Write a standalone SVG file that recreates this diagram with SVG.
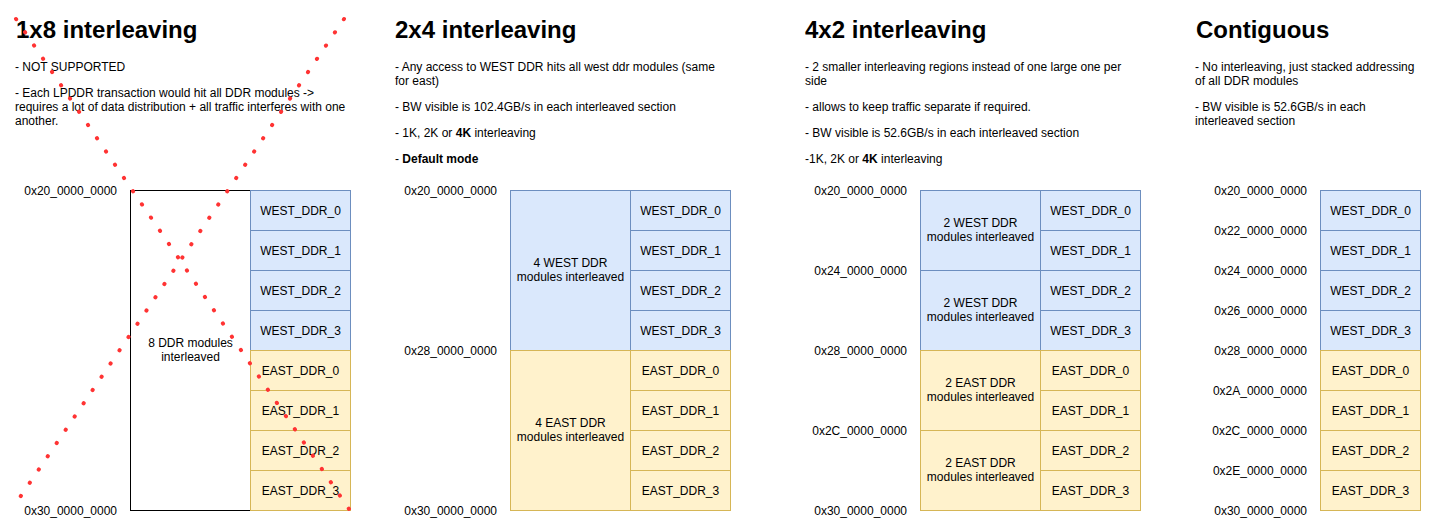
<svg xmlns="http://www.w3.org/2000/svg" width="1430" height="530" viewBox="0 0 1430 530">
<style>
text{font-family:"Liberation Sans",Arial,Helvetica,sans-serif;font-size:12px;fill:#000}
.title{font-size:24px;font-weight:bold}
.addr{text-anchor:end}
.c{text-anchor:middle}
.b{font-weight:bold}
.west{fill:#dae8fc;stroke:#6c8ebf;stroke-width:1}
.east{fill:#fff2cc;stroke:#d6b656;stroke-width:1}
.plain{fill:#ffffff;stroke:#000000;stroke-width:1}
.cross{fill:none;stroke:#ff3333;stroke-width:4;stroke-linecap:round;stroke-dasharray:0.3 15.7}
</style>
<rect width="1430" height="530" fill="#ffffff"/>

<!-- Panel 1 -->
<g id="text-1x8">
<text class="title" x="16" y="38">1x8 interleaving</text>
<text x="15" y="71">- NOT SUPPORTED</text>
<text x="15" y="97">- Each LPDDR transaction would hit all DDR modules -&gt;</text>
<text x="15" y="111">requires a lot of data distribution + all traffic interferes with one</text>
<text x="15" y="125">another.</text>
</g>
<g id="addr-1x8">
<text class="addr" x="117" y="195">0x20_0000_0000</text>
<text class="addr" x="117" y="515">0x30_0000_0000</text>
</g>
<g id="p1-interleaved"><rect class="plain" x="130.5" y="190.5" width="120" height="320"/>
<text class="c" x="190.5" y="347">8 DDR modules</text><text class="c" x="190.5" y="361">interleaved</text></g>
<g id="p1-west0"><rect class="west" x="250.5" y="190.5" width="100" height="40"/><text class="c" x="300.5" y="215">WEST_DDR_0</text></g>
<g id="p1-west1"><rect class="west" x="250.5" y="230.5" width="100" height="40"/><text class="c" x="300.5" y="255">WEST_DDR_1</text></g>
<g id="p1-west2"><rect class="west" x="250.5" y="270.5" width="100" height="40"/><text class="c" x="300.5" y="295">WEST_DDR_2</text></g>
<g id="p1-west3"><rect class="west" x="250.5" y="310.5" width="100" height="40"/><text class="c" x="300.5" y="335">WEST_DDR_3</text></g>
<g id="p1-east0"><rect class="east" x="250.5" y="350.5" width="100" height="40"/><text class="c" x="300.5" y="375">EAST_DDR_0</text></g>
<g id="p1-east1"><rect class="east" x="250.5" y="390.5" width="100" height="40"/><text class="c" x="300.5" y="415">EAST_DDR_1</text></g>
<g id="p1-east2"><rect class="east" x="250.5" y="430.5" width="100" height="40"/><text class="c" x="300.5" y="455">EAST_DDR_2</text></g>
<g id="p1-east3"><rect class="east" x="250.5" y="470.5" width="100" height="40"/><text class="c" x="300.5" y="495">EAST_DDR_3</text></g>

<!-- Panel 2 -->
<g id="text-2x4">
<text class="title" x="395" y="38">2x4 interleaving</text>
<text x="395" y="71">- Any access to WEST DDR hits all west ddr modules (same</text>
<text x="395" y="85">for east)</text>
<text x="395" y="111">- BW visible is 102.4GB/s in each interleaved section</text>
<text x="395" y="137">- 1K, 2K or <tspan class="b">4K</tspan> interleaving</text>
<text x="395" y="163">- <tspan class="b">Default mode</tspan></text>
</g>
<g id="addr-2x4">
<text class="addr" x="497" y="195">0x20_0000_0000</text>
<text class="addr" x="497" y="355">0x28_0000_0000</text>
<text class="addr" x="497" y="515">0x30_0000_0000</text>
</g>
<g id="p2-west-int"><rect class="west" x="510.5" y="190.5" width="120" height="160"/>
<text class="c" x="570.5" y="267">4 WEST DDR</text><text class="c" x="570.5" y="281">modules interleaved</text></g>
<g id="p2-east-int"><rect class="east" x="510.5" y="350.5" width="120" height="160"/>
<text class="c" x="570.5" y="427">4 EAST DDR</text><text class="c" x="570.5" y="441">modules interleaved</text></g>
<g id="p2-west0"><rect class="west" x="630.5" y="190.5" width="100" height="40"/><text class="c" x="680.5" y="215">WEST_DDR_0</text></g>
<g id="p2-west1"><rect class="west" x="630.5" y="230.5" width="100" height="40"/><text class="c" x="680.5" y="255">WEST_DDR_1</text></g>
<g id="p2-west2"><rect class="west" x="630.5" y="270.5" width="100" height="40"/><text class="c" x="680.5" y="295">WEST_DDR_2</text></g>
<g id="p2-west3"><rect class="west" x="630.5" y="310.5" width="100" height="40"/><text class="c" x="680.5" y="335">WEST_DDR_3</text></g>
<g id="p2-east0"><rect class="east" x="630.5" y="350.5" width="100" height="40"/><text class="c" x="680.5" y="375">EAST_DDR_0</text></g>
<g id="p2-east1"><rect class="east" x="630.5" y="390.5" width="100" height="40"/><text class="c" x="680.5" y="415">EAST_DDR_1</text></g>
<g id="p2-east2"><rect class="east" x="630.5" y="430.5" width="100" height="40"/><text class="c" x="680.5" y="455">EAST_DDR_2</text></g>
<g id="p2-east3"><rect class="east" x="630.5" y="470.5" width="100" height="40"/><text class="c" x="680.5" y="495">EAST_DDR_3</text></g>

<!-- Panel 3 -->
<g id="text-4x2">
<text class="title" x="805" y="38">4x2 interleaving</text>
<text x="805" y="71">- 2 smaller interleaving regions instead of one large one per</text>
<text x="805" y="85">side</text>
<text x="805" y="111">- allows to keep traffic separate if required.</text>
<text x="805" y="137">- BW visible is 52.6GB/s in each interleaved section</text>
<text x="805" y="163">-1K, 2K or <tspan class="b">4K</tspan> interleaving</text>
</g>
<g id="addr-4x2">
<text class="addr" x="907" y="195">0x20_0000_0000</text>
<text class="addr" x="907" y="275">0x24_0000_0000</text>
<text class="addr" x="907" y="355">0x28_0000_0000</text>
<text class="addr" x="907" y="435">0x2C_0000_0000</text>
<text class="addr" x="907" y="515">0x30_0000_0000</text>
</g>
<g id="p3-west-int-a"><rect class="west" x="920.5" y="190.5" width="120" height="80"/>
<text class="c" x="980.5" y="227">2 WEST DDR</text><text class="c" x="980.5" y="241">modules interleaved</text></g>
<g id="p3-west-int-b"><rect class="west" x="920.5" y="270.5" width="120" height="80"/>
<text class="c" x="980.5" y="307">2 WEST DDR</text><text class="c" x="980.5" y="321">modules interleaved</text></g>
<g id="p3-east-int-a"><rect class="east" x="920.5" y="350.5" width="120" height="80"/>
<text class="c" x="980.5" y="387">2 EAST DDR</text><text class="c" x="980.5" y="401">modules interleaved</text></g>
<g id="p3-east-int-b"><rect class="east" x="920.5" y="430.5" width="120" height="80"/>
<text class="c" x="980.5" y="467">2 EAST DDR</text><text class="c" x="980.5" y="481">modules interleaved</text></g>
<g id="p3-west0"><rect class="west" x="1040.5" y="190.5" width="100" height="40"/><text class="c" x="1090.5" y="215">WEST_DDR_0</text></g>
<g id="p3-west1"><rect class="west" x="1040.5" y="230.5" width="100" height="40"/><text class="c" x="1090.5" y="255">WEST_DDR_1</text></g>
<g id="p3-west2"><rect class="west" x="1040.5" y="270.5" width="100" height="40"/><text class="c" x="1090.5" y="295">WEST_DDR_2</text></g>
<g id="p3-west3"><rect class="west" x="1040.5" y="310.5" width="100" height="40"/><text class="c" x="1090.5" y="335">WEST_DDR_3</text></g>
<g id="p3-east0"><rect class="east" x="1040.5" y="350.5" width="100" height="40"/><text class="c" x="1090.5" y="375">EAST_DDR_0</text></g>
<g id="p3-east1"><rect class="east" x="1040.5" y="390.5" width="100" height="40"/><text class="c" x="1090.5" y="415">EAST_DDR_1</text></g>
<g id="p3-east2"><rect class="east" x="1040.5" y="430.5" width="100" height="40"/><text class="c" x="1090.5" y="455">EAST_DDR_2</text></g>
<g id="p3-east3"><rect class="east" x="1040.5" y="470.5" width="100" height="40"/><text class="c" x="1090.5" y="495">EAST_DDR_3</text></g>

<!-- Panel 4 -->
<g id="text-contiguous">
<text class="title" x="1196" y="38">Contiguous</text>
<text x="1195" y="71">- No interleaving, just stacked addressing</text>
<text x="1195" y="85">of all DDR modules</text>
<text x="1195" y="111">- BW visible is 52.6GB/s in each</text>
<text x="1195" y="125">interleaved section</text>
</g>
<g id="addr-contiguous">
<text class="addr" x="1307" y="195">0x20_0000_0000</text>
<text class="addr" x="1307" y="235">0x22_0000_0000</text>
<text class="addr" x="1307" y="275">0x24_0000_0000</text>
<text class="addr" x="1307" y="315">0x26_0000_0000</text>
<text class="addr" x="1307" y="355">0x28_0000_0000</text>
<text class="addr" x="1307" y="395">0x2A_0000_0000</text>
<text class="addr" x="1307" y="435">0x2C_0000_0000</text>
<text class="addr" x="1307" y="475">0x2E_0000_0000</text>
<text class="addr" x="1307" y="515">0x30_0000_0000</text>
</g>
<g id="p4-west0"><rect class="west" x="1320.5" y="190.5" width="100" height="40"/><text class="c" x="1370.5" y="215">WEST_DDR_0</text></g>
<g id="p4-west1"><rect class="west" x="1320.5" y="230.5" width="100" height="40"/><text class="c" x="1370.5" y="255">WEST_DDR_1</text></g>
<g id="p4-west2"><rect class="west" x="1320.5" y="270.5" width="100" height="40"/><text class="c" x="1370.5" y="295">WEST_DDR_2</text></g>
<g id="p4-west3"><rect class="west" x="1320.5" y="310.5" width="100" height="40"/><text class="c" x="1370.5" y="335">WEST_DDR_3</text></g>
<g id="p4-east0"><rect class="east" x="1320.5" y="350.5" width="100" height="40"/><text class="c" x="1370.5" y="375">EAST_DDR_0</text></g>
<g id="p4-east1"><rect class="east" x="1320.5" y="390.5" width="100" height="40"/><text class="c" x="1370.5" y="415">EAST_DDR_1</text></g>
<g id="p4-east2"><rect class="east" x="1320.5" y="430.5" width="100" height="40"/><text class="c" x="1370.5" y="455">EAST_DDR_2</text></g>
<g id="p4-east3"><rect class="east" x="1320.5" y="470.5" width="100" height="40"/><text class="c" x="1370.5" y="495">EAST_DDR_3</text></g>

<!-- Red dotted cross -->
<g id="connectors">
<line class="cross" x1="16" y1="19" x2="349" y2="509"/>
<line class="cross" x1="344" y1="19" x2="12" y2="509"/>
</g>
</svg>
